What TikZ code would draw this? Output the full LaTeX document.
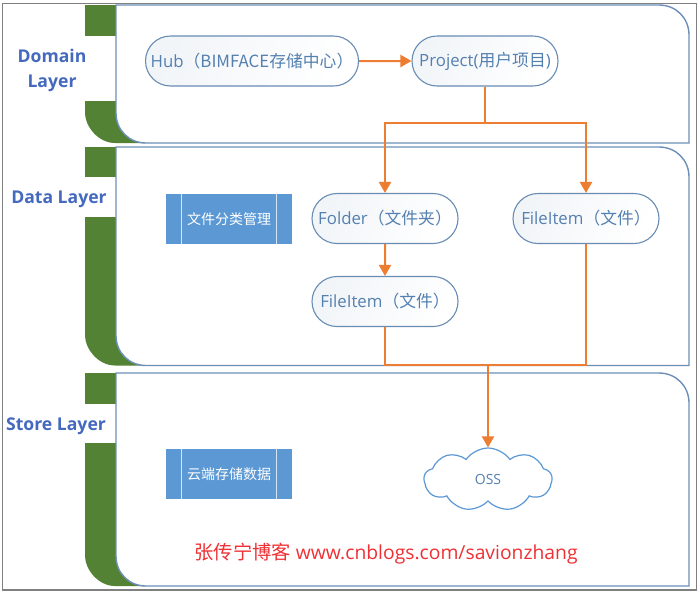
\documentclass[tikz,border=0pt]{standalone}
\usepackage{fontspec}
\setmainfont{Open Sans}
\newfontfamily\zhfont{Noto Sans CJK SC}
\usetikzlibrary{shapes.symbols, shapes.misc, arrows.meta}
\definecolor{LayerGreen}{RGB}{84, 130, 53}
\definecolor{LayerLine}{RGB}{108, 143, 184}
\definecolor{LayerText}{RGB}{68, 105, 190}
\definecolor{NodeLine}{RGB}{104, 140, 180}
\definecolor{NodeText}{RGB}{84, 128, 176}
\definecolor{BoxBlue}{RGB}{91, 152, 212}
\definecolor{LinkOrange}{RGB}{237, 125, 49}
\definecolor{MarkRed}{RGB}{240, 48, 52}
\newcommand{\zh}[1]{{\zhfont #1}}
\tikzset{
  layerlabel/.style={align=center, text=LayerText, font=\fontsize{17.6}{25}\selectfont\bfseries},
  itemnode/.style={rounded rectangle, draw=NodeLine, line width=1.1pt, minimum height=50pt,
    left color=NodeLine!9, right color=white, shading angle=60, text=NodeText,
    inner xsep=0pt, font=\fontsize{16.8}{19}\selectfont},
  procbox/.style={fill=BoxBlue, minimum width=126pt, minimum height=50pt, inner sep=0pt,
    text=white, font=\fontsize{14}{16}\selectfont},
  link/.style={draw=LinkOrange, line width=2pt},
  linkarrow/.style={link, -{Triangle[length=11pt, width=12pt]}}
}
\begin{document}
\begin{tikzpicture}[x=1pt, y=-1pt]
    \useasboundingbox (0,0) rectangle (700,595);
    \fill[white] (0,0) rectangle (700,595);
    \draw[gray, line width=1.2pt] (2.5,3.5) rectangle (696.5,590);

    % Layers
    \foreach \ytop/\ygap/\ylow/\ybot in {5/36/101/143, 147/177/217/365.5, 373/404/443/586} {
      \fill[LayerGreen] (85,\ytop) rectangle (116,\ygap);
      \fill[LayerGreen] (85,\ylow) -- (116,\ylow) -- (116,\ybot-30) -- (146,\ybot) -- (115,\ybot)
        .. controls (98,\ybot) and (85,\ybot-17) .. (85,\ybot-30) -- cycle;
      \filldraw[fill=white, draw=LayerLine, line width=1.4pt] (116,\ytop) -- (659,\ytop)
        .. controls (676,\ytop) and (689,\ytop+13) .. (689,\ytop+30) -- (689,\ybot) -- (146,\ybot)
        .. controls (129,\ybot) and (116,\ybot-13) .. (116,\ybot-30) -- cycle;
    }

    % Labels
    \node[layerlabel] (domainlabel) at (52,70.5) {Domain\\Layer};
    \node[layerlabel] (datalabel) at (59,199) {Data Layer};
    \node[layerlabel] (storelabel) at (56,426) {Store Layer};

    % Domain
    \node[itemnode, minimum width=213pt] (hub) at (252,61) {Hub\zh{（BIMFACE存储中心）}};
    \node[itemnode, minimum width=146pt] (project) at (485,61) {Project(\zh{用户项目})};

    % Data
    \node[procbox] (filebox) at (229,219) {\zh{文件分类管理}};
    \draw[white!75!BoxBlue, line width=0.5pt] (181,194) -- (181,244) (276,194) -- (276,244);
    \node[itemnode, minimum width=146pt] (folder) at (385,218.5) {Folder\zh{（文件夹）}};
    \node[itemnode, minimum width=146pt] (fileright) at (586,218.5) {FileItem\zh{（文件）}};
    \node[itemnode, minimum width=146pt] (fileleft) at (385,301.5) {FileItem\zh{（文件）}};

    % Store
    \node[procbox] (storebox) at (229,474) {\zh{云端存储数据}};
    \draw[white!75!BoxBlue, line width=0.5pt] (181,449) -- (181,499) (276,449) -- (276,499);
    \node[cloud, cloud puffs=9, cloud puff arc=110, aspect=2, draw=BoxBlue, line width=1.2pt,
      minimum width=128pt, minimum height=63pt, inner sep=0pt, text=NodeText,
      font=\fontsize{14}{16}\selectfont] (oss) at (488,479.5) {OSS};

    % Links
    \coordinate (split) at (485,123);
    \coordinate (joinleft) at (385,365);
    \coordinate (joinright) at (586,365);
    \coordinate (join) at (488,365);
    \draw[linkarrow] (hub) -- (project);
    \draw[link] (project.south) -- (split);
    \draw[linkarrow] (split) -| (folder.north);
    \draw[linkarrow] (split) -| (fileright.north);
    \draw[linkarrow] (folder) -- (fileleft);
    \draw[link] (fileleft.south) -- (joinleft) -- (join);
    \draw[link] (fileright.south) -- (joinright) -- (join);
    \draw[linkarrow] (join) -- (oss.north);

    % Watermark
    \node[text=MarkRed, font=\fontsize{19.3}{22}\selectfont] (mark) at (386,554) {\zh{张传宁博客} www.cnblogs.com/savionzhang};
\end{tikzpicture}
\end{document}
